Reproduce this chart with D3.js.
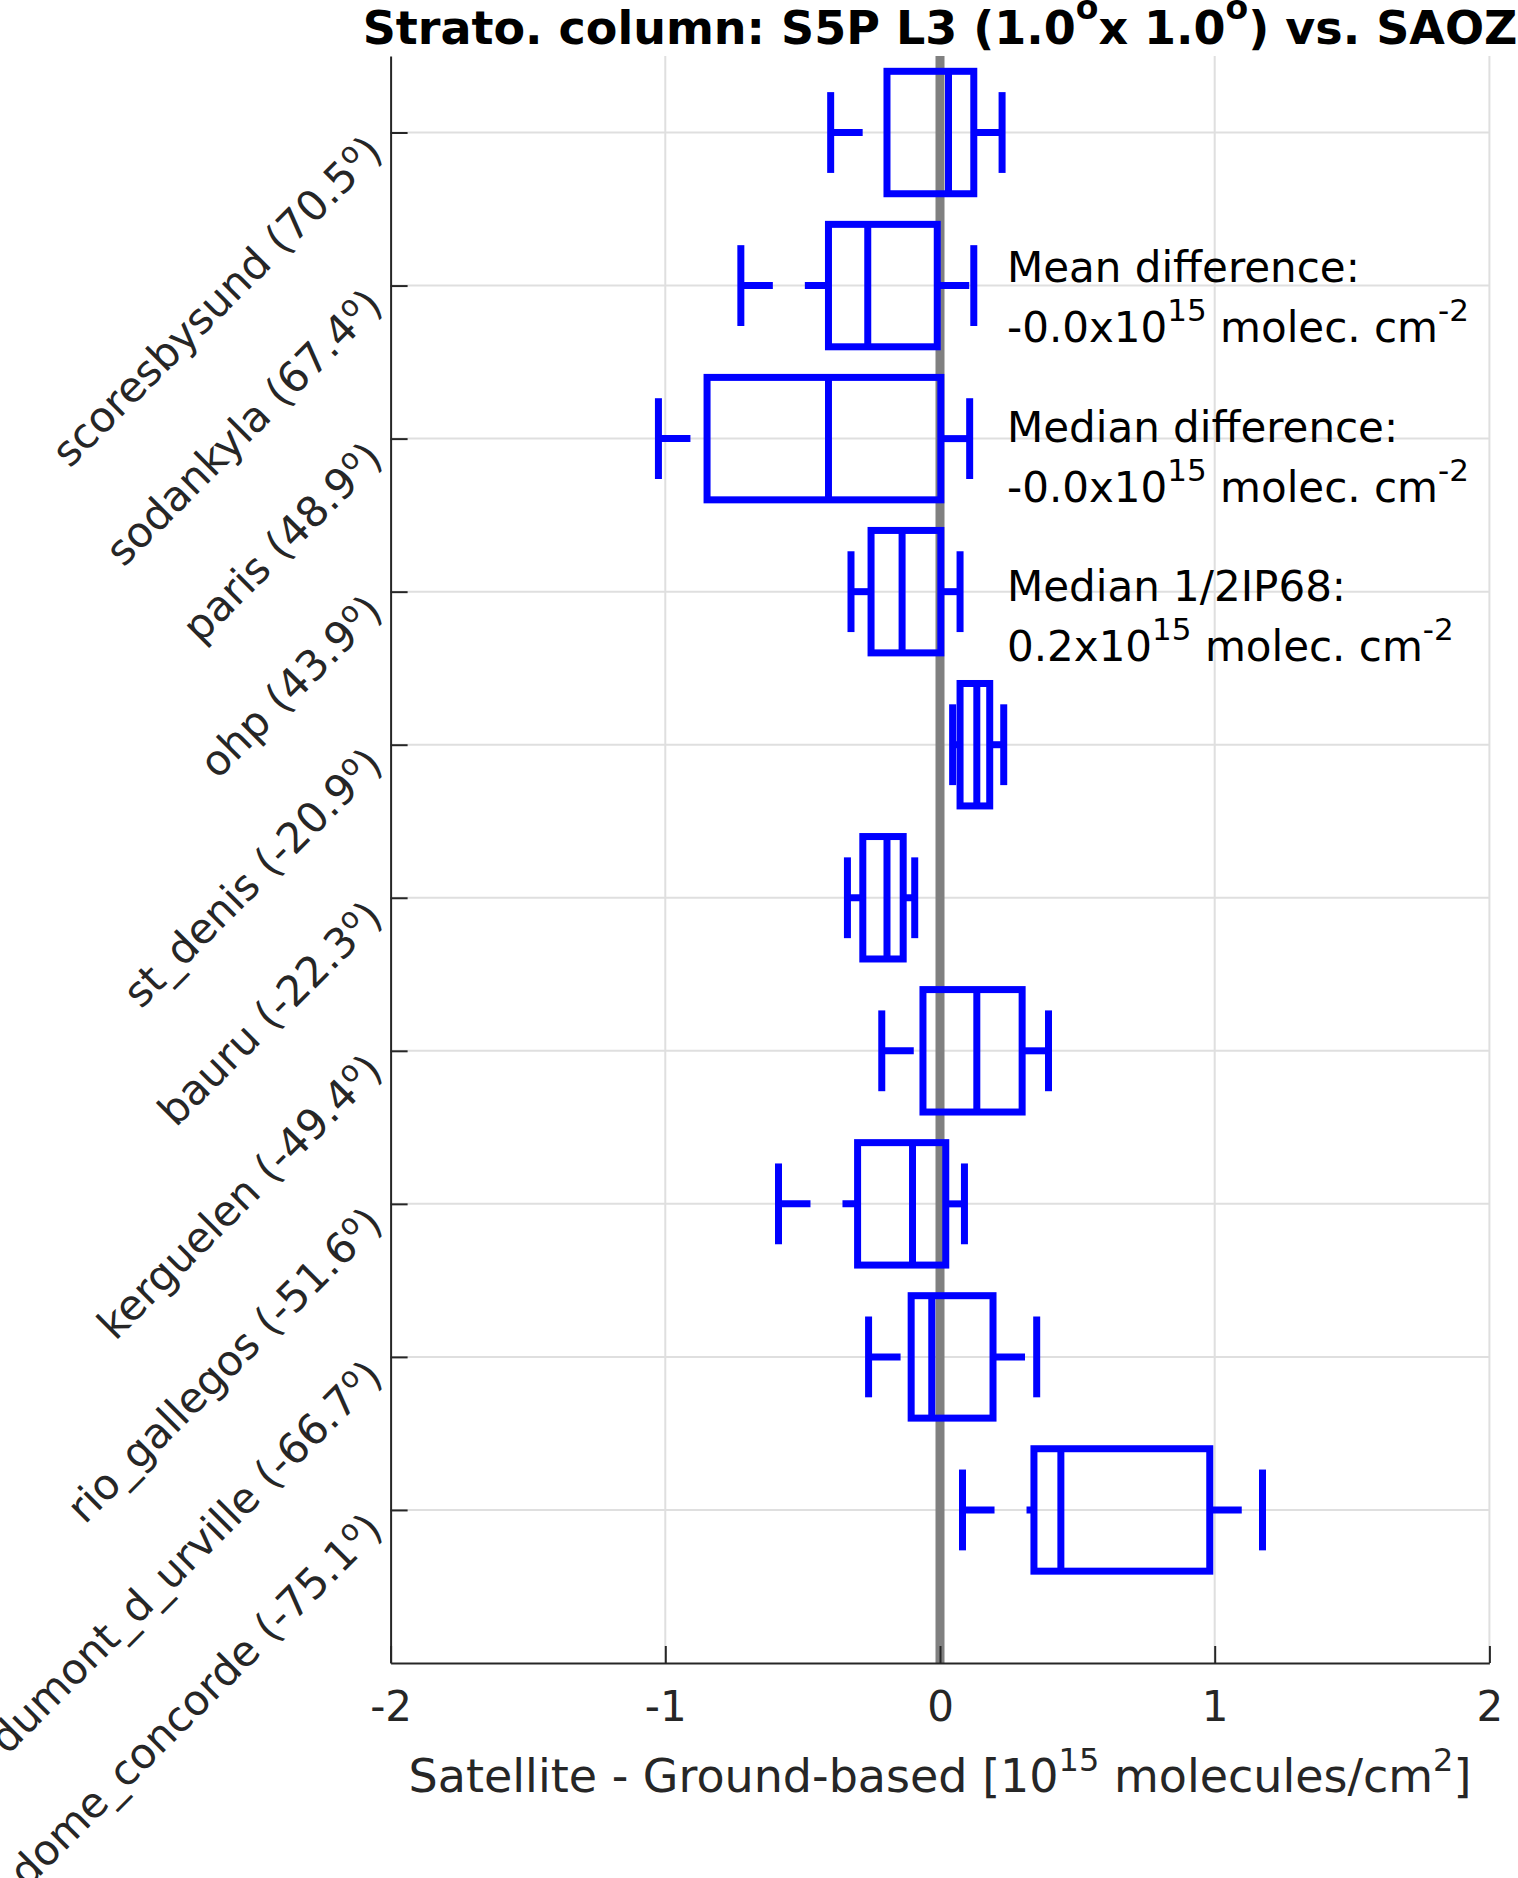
<!DOCTYPE html>
<html lang="en">
	<head>
		<meta charset="UTF-8" />
		<title>Strato. column boxplot</title>
		<script src="https://d3js.org/d3.v7.min.js"></script>
		<style>
			body {
				margin: 0;
				background: #fff;
			}
			text {
				font-family: "DejaVu Sans", sans-serif;
				white-space: pre;
			}
		</style>
	</head>
	<body>
		<svg width="1518" height="1878"></svg>

		<script>
			const width = 1518;
			const height = 1878;

			// stations, top to bottom
			const stations = [
				"scoresbysund",
				"sodankyla",
				"paris",
				"ohp",
				"st_denis",
				"bauru",
				"kerguelen",
				"rio_gallegos",
				"dumont_d_urville",
				"dome_concorde",
			];
			const latitudes = [70.5, 67.4, 48.9, 43.9, -20.9, -22.3, -49.4, -51.6, -66.7, -75.1];

			// box statistics, 10^15 molecules/cm2
			const lowerWhisker = [-0.398, -0.725, -1.025, -0.324, 0.046, -0.337, -0.212, -0.588, -0.26, 0.082];
			const q1 = [-0.193, -0.406, -0.848, -0.251, 0.073, -0.281, -0.062, -0.3, -0.105, 0.342];
			const medians = [0.031, -0.263, -0.406, -0.138, 0.134, -0.193, 0.134, -0.1, -0.03, 0.44];
			const q3 = [0.123, -0.01, 0.003, 0.003, 0.181, -0.134, 0.299, 0.021, 0.193, 0.982];
			const upperWhisker = [0.226, 0.123, 0.108, 0.073, 0.232, -0.092, 0.395, 0.089, 0.352, 1.174];

			const xTicks = [-2, -1, 0, 1, 2];

			// text blocks in the upper right
			const notes = [
				["Mean difference:", "-0.0", "-2"],
				["Median difference:", "-0.0", "-2"],
				["Median 1/2IP68:", "0.2", "-2"],
			];

			const x = d3.scaleLinear().domain([-2, 2]).range([390.6, 1489.4]);
			const y = d3.scaleLinear().domain([0.5, 11]).range([56, 1663]);

			const boxHalf = 0.4;
			const capHalf = 0.264;
			const blue = "#0000ff";
			const ink = "#262626";

			const svg = d3.select("svg");

			// write text with TeX-like superscripts
			function richText(sel, parts, size, supSize, shift) {
				let up = false;
				parts.forEach((p) => {
					const sup = typeof p !== "string";
					const t = sel.append("tspan").attr("font-size", sup ? supSize : size);
					if (sup && !up) t.attr("dy", -shift);
					if (!sup && up) t.attr("dy", shift);
					t.text(sup ? p.s : p);
					up = sup;
				});
				return sel;
			}

			// grid
			const grid = svg.append("g").attr("stroke", "#dfdfdf").attr("stroke-width", 2);
			grid
				.selectAll("line.v")
				.data(xTicks.slice(1))
				.join("line")
				.attr("class", "v")
				.attr("x1", (d) => x(d))
				.attr("x2", (d) => x(d))
				.attr("y1", y.range()[0])
				.attr("y2", y.range()[1]);
			grid
				.selectAll("line.h")
				.data(stations)
				.join("line")
				.attr("class", "h")
				.attr("x1", x.range()[0])
				.attr("x2", x.range()[1])
				.attr("y1", (d, i) => y(i + 1))
				.attr("y2", (d, i) => y(i + 1));

			// zero line
			svg
				.append("line")
				.attr("x1", x(0))
				.attr("x2", x(0))
				.attr("y1", y.range()[0])
				.attr("y2", y.range()[1])
				.attr("stroke", "#808080")
				.attr("stroke-width", 9);

			// boxes
			const boxes = svg
				.append("g")
				.attr("stroke", blue)
				.attr("stroke-width", 7)
				.attr("fill", "none")
				.selectAll("g")
				.data(stations)
				.join("g");

			boxes
				.append("line")
				.attr("stroke-dasharray", "32,32")
				.attr("x1", (d, i) => x(lowerWhisker[i]))
				.attr("x2", (d, i) => x(q1[i]))
				.attr("y1", (d, i) => y(i + 1))
				.attr("y2", (d, i) => y(i + 1));
			boxes
				.append("line")
				.attr("stroke-dasharray", "32,32")
				.attr("x1", (d, i) => x(q3[i]))
				.attr("x2", (d, i) => x(upperWhisker[i]))
				.attr("y1", (d, i) => y(i + 1))
				.attr("y2", (d, i) => y(i + 1));

			[lowerWhisker, upperWhisker].forEach((w) => {
				boxes
					.append("line")
					.attr("x1", (d, i) => x(w[i]))
					.attr("x2", (d, i) => x(w[i]))
					.attr("y1", (d, i) => y(i + 1 - capHalf))
					.attr("y2", (d, i) => y(i + 1 + capHalf));
			});

			boxes
				.append("rect")
				.attr("x", (d, i) => x(q1[i]))
				.attr("width", (d, i) => x(q3[i]) - x(q1[i]))
				.attr("y", (d, i) => y(i + 1 - boxHalf))
				.attr("height", (d, i) => y(i + 1 + boxHalf) - y(i + 1 - boxHalf));

			boxes
				.append("line")
				.attr("x1", (d, i) => x(medians[i]))
				.attr("x2", (d, i) => x(medians[i]))
				.attr("y1", (d, i) => y(i + 1 - boxHalf))
				.attr("y2", (d, i) => y(i + 1 + boxHalf));

			// x axis
			const xAxis = svg
				.append("g")
				.attr("transform", `translate(0,${y.range()[1]})`)
				.call(
					d3
						.axisBottom(x)
						.tickValues(xTicks)
						.tickFormat((d) => String(d))
						.tickSizeInner(-17)
						.tickSizeOuter(0)
						.tickPadding(28)
				);

			// y axis, labels are added by hand below
			const yAxis = svg
				.append("g")
				.attr("transform", `translate(${x.range()[0]},0)`)
				.call(d3.axisLeft(y).tickValues(d3.range(1, 11)).tickFormat("").tickSizeInner(-17).tickSizeOuter(0));

			[xAxis, yAxis].forEach((a) => {
				a.select(".domain").attr("stroke", ink).attr("stroke-width", 2);
				a.selectAll(".tick line").attr("stroke", ink).attr("stroke-width", 2);
			});
			xAxis.selectAll(".tick text").attr("fill", ink).attr("font-size", 42).attr("font-family", "DejaVu Sans");

			yAxis.selectAll(".tick text").remove();
			yAxis
				.selectAll(".tick")
				.append("text")
				.attr("transform", "translate(-6,21) rotate(-45)")
				.attr("text-anchor", "end")
				.attr("fill", ink)
				.attr("font-size", 42)
				.each(function (d) {
					const i = d - 1;
					richText(d3.select(this), [`${stations[i]} (${latitudes[i].toFixed(1)}`, { s: "o" }, ")"], 42, 29, 16);
				});

			// x axis label
			richText(
				svg
					.append("text")
					.attr("x", (x.range()[0] + x.range()[1]) / 2)
					.attr("y", 1792)
					.attr("text-anchor", "middle")
					.attr("fill", ink),
				["Satellite - Ground-based [10", { s: "15" }, " molecules/cm", { s: "2" }, "]"],
				46,
				32,
				21
			);

			// annotations
			notes.forEach((n, k) => {
				const top = 282 + k * 159.5;
				svg.append("text").attr("x", 1007).attr("y", top).attr("font-size", 42).attr("fill", "#000").text(n[0]);
				richText(
					svg.append("text").attr("x", 1007).attr("y", top + 60).attr("fill", "#000"),
					[`${n[1]}x10`, { s: "15" }, " molec. cm", { s: n[2] }],
					42,
					31,
					21
				);
			});

			// title
			richText(
				svg
					.append("text")
					.attr("x", (x.range()[0] + x.range()[1]) / 2)
					.attr("y", 44)
					.attr("text-anchor", "middle")
					.attr("font-weight", "bold")
					.attr("fill", "#000"),
				["Strato. column: S5P L3 (1.0", { s: "o" }, "x 1.0", { s: "o" }, ") vs. SAOZ"],
				46,
				33,
				25
			);
		</script>
	</body>
</html>
